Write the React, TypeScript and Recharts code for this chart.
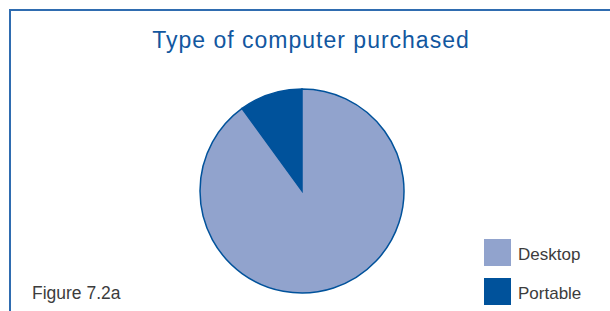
import React from "react";
import { PieChart, Pie, Cell, Legend } from "recharts";

const categories = ["Portable", "Desktop"];
const values = [10, 90];
const colors = ["#00529B", "#91A3CD"];
const legendOrder = ["Desktop", "Portable"];
const title = "Type of computer purchased";
const figureLabel = "Figure 7.2a";

const data = categories.map((name, i) => ({ name, value: values[i] }));

const renderLegend = () => (
  <div style={{ position: "absolute", left: 484, top: 239 }}>
    {legendOrder.map((name) => {
      const i = categories.indexOf(name);
      return (
        <div key={name} style={{ position: "relative", height: 27, marginBottom: 12 }}>
          <div style={{ position: "absolute", left: 0, top: 0, width: 27, height: 27, background: colors[i] }} />
          <span style={{ position: "absolute", left: 34, top: 6, whiteSpace: "nowrap", lineHeight: "normal", fontFamily: "Liberation Sans, Arial, sans-serif", fontSize: 17, color: "#3c3c3c" }}>{name}</span>
        </div>
      );
    })}
  </div>
);

export default function App() {
  return (
    <div style={{ position: "absolute", left: 0, top: 0, width: 610, height: 311, background: "#fff", overflow: "hidden" }}>
      <div style={{ position: "absolute", left: 9, top: 9, width: 640, height: 340, borderTop: "2px solid #2F6CB0", borderLeft: "2px solid #2F6CB0" }} />
      <div style={{ position: "absolute", left: 0, top: 27, width: 622, textAlign: "center", lineHeight: "normal", letterSpacing: 1, fontFamily: "Liberation Sans, Arial, sans-serif", fontSize: 23, color: "#12579F" }}>{title}</div>
      <div style={{ position: "absolute", left: 32, top: 283, lineHeight: "normal", fontFamily: "Liberation Sans, Arial, sans-serif", fontSize: 17.5, color: "#3c3c3c" }}>{figureLabel}</div>
      <div style={{ position: "absolute", left: 0, top: 0 }}>
        <PieChart width={610} height={311}>
          <Pie
            data={data}
            dataKey="value"
            nameKey="name"
            cx={297}
            cy={186}
            outerRadius={102}
            startAngle={90}
            endAngle={450}
            stroke="#00529B"
            strokeWidth={1.5}
            isAnimationActive={false}
          >
            {data.map((d, i) => (
              <Cell key={d.name} fill={colors[i]} />
            ))}
          </Pie>
          <Legend content={renderLegend} wrapperStyle={{ position: "absolute", left: 0, top: 0, width: 0, height: 0 }} />
        </PieChart>
      </div>
    </div>
  );
}
